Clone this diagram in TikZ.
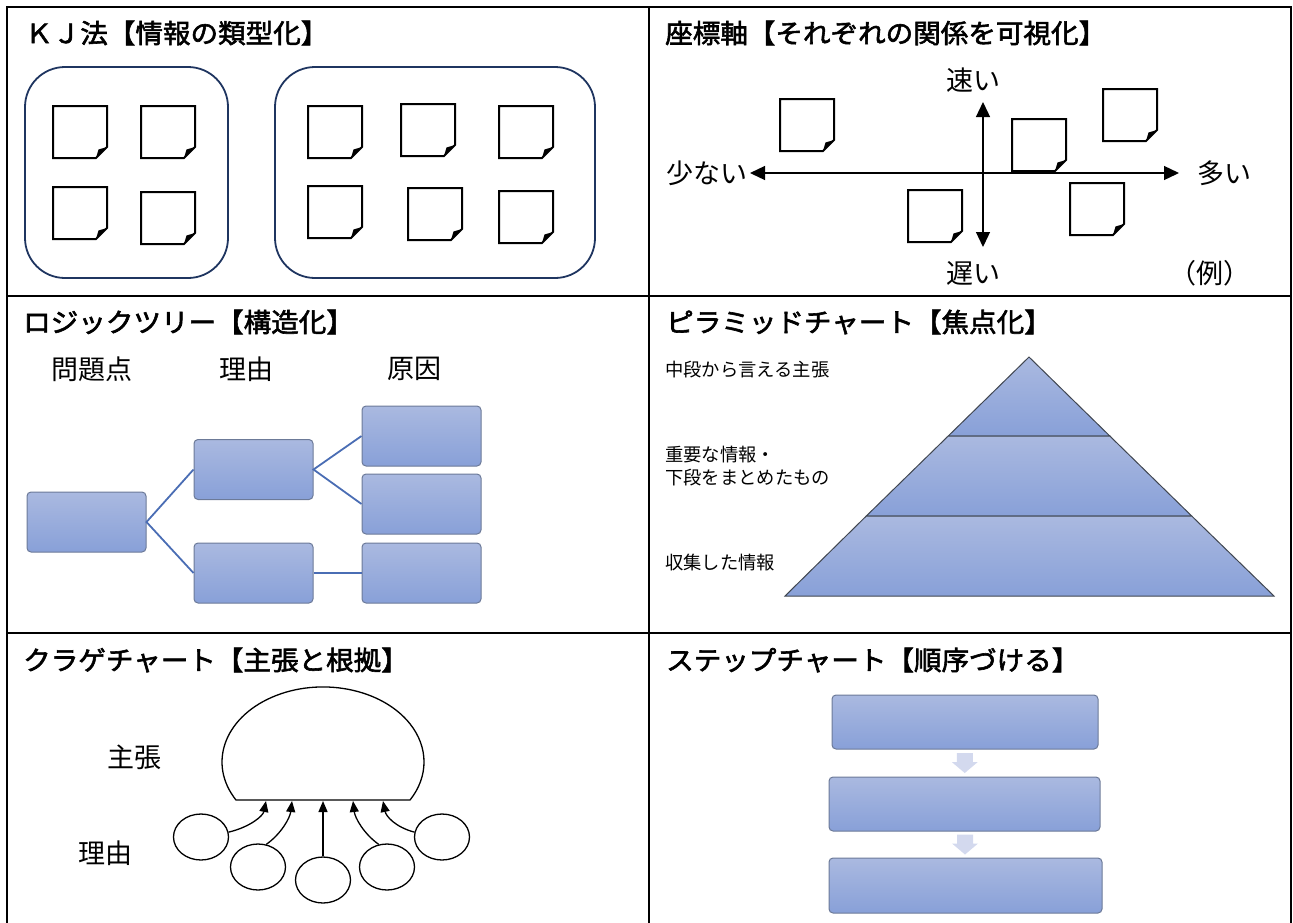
\documentclass[tikz,border=0pt]{standalone}
\usepackage{fontspec}
\newfontfamily\jp{Noto Sans CJK JP}
\newfontfamily\jpb{Noto Sans CJK JP}[FakeBold=2.2, FakeStretch=1.04]
\usetikzlibrary{arrows.meta,shapes.geometric,calc}
\definecolor{boxtop}{HTML}{AAB9E0}
\definecolor{boxbot}{HTML}{88A0D8}
\definecolor{boxline}{HTML}{6C7A98}
\definecolor{treeline}{HTML}{4A6DB4}
\definecolor{navy}{HTML}{1F3560}
\definecolor{steparrow}{HTML}{D3D9EE}
\definecolor{pyrline}{HTML}{404650}
\tikzset{
  cellline/.style={line width=2pt, black, line cap=rect},
  title/.style={anchor=west, inner sep=0pt, font=\jpb\fontsize{26.5}{26.5}\selectfont},
  lbl/.style={inner sep=0pt, font=\jp\fontsize{27}{27}\selectfont},
  small/.style={anchor=west, inner sep=0pt, align=left, font=\jp\fontsize{18.3}{23}\selectfont},
  gbox/.style={draw=boxline, line width=1pt, rounded corners=4pt, top color=boxtop, bottom color=boxbot, inner sep=0pt},
  treebox/.style={gbox, minimum width=119pt, minimum height=60pt},
  stepbox/.style={gbox, minimum height=54pt},
  group/.style={draw=navy, line width=1.8pt, rounded corners=40pt},
  treelink/.style={draw=treeline, line width=1.8pt},
  reason/.style={draw, ellipse, line width=1.3pt, minimum width=55pt, minimum height=46pt, inner sep=0pt},
  jarrow/.style={line width=1.3pt, -{Triangle[length=11pt,width=9pt]}},
  axis/.style={line width=1.3pt, {Triangle[length=15pt,width=14pt]}-{Triangle[length=15pt,width=14pt]}},
  sticky/.pic={
    \draw[line width=2pt, line join=miter] (0,0) -- (54,0) -- (54,41) -- (43,52) -- (0,52) -- cycle;
    \fill (54,41) -- (43,52) -- (45.5,43.5) -- cycle;
  },
  downarr/.pic={
    \fill[steparrow] (-8,-10) -- (8,-10) -- (8,-1) -- (13,-1) -- (0,10) -- (-13,-1) -- (-8,-1) -- cycle;
  }
}
\begin{document}
\begin{tikzpicture}[x=1pt,y=-1pt]
\useasboundingbox (0,0) rectangle (1293,922);
% table lines
\draw[cellline] (7,930) -- (7,7) -- (1291,7) -- (1291,930);
\draw[cellline] (649,7) -- (649,930);
\draw[cellline] (7,296) -- (1291,296);
\draw[cellline] (7,633) -- (1291,633);

% ---------- KJ ----------
\node[title] (t1) at (25,33) {ＫＪ法【情報の類型化】};
\draw[group] (25,67) rectangle (228,278);
\draw[group] (275,67) rectangle (595,278);
\foreach \p in {(53,106),(141,106),(53,187),(141,192),(308,106),(401,104),(499,106),(308,186),(408,188),(499,191)}
  \pic at \p {sticky};

% ---------- axes ----------
\node[title] (t2) at (665,33) {座標軸【それぞれの関係を可視化】};
\foreach \p in {(780,99),(1012,119),(1103,89),(908,190),(1070,183)}
  \pic at \p {sticky};
\node[lbl, anchor=east] (few) at (748,173) {少ない};
\node[lbl, anchor=west] (many) at (1197,173) {多い};
\node[lbl] (fast) at (973,80) {速い};
\node[lbl] (slow) at (973,273) {遅い};
\node[lbl] (ex) at (1210,273) {（例）};
\coordinate (xl) at (750,173);
\coordinate (xr) at (1179,173);
\coordinate (yt) at (983,102);
\coordinate (yb) at (983,247);
\draw[axis] (xl) -- (xr);
\draw[axis] (yt) -- (yb);

% ---------- logic tree ----------
\node[title] (t3) at (23,322) {ロジックツリー【構造化】};
\node[lbl] (h1) at (92,369) {問題点};
\node[lbl] (h2) at (246,369) {理由};
\node[lbl] (h3) at (414,369) {原因};
\node[treebox] (root) at (86.5,522) {};
\node[treebox] (m1) at (253.5,469.5) {};
\node[treebox] (m2) at (253.5,573) {};
\node[treebox] (r1) at (421.5,436) {};
\node[treebox] (r2) at (421.5,504) {};
\node[treebox] (r3) at (421.5,573) {};
\draw[treelink] (m1.west) -- (root.east) -- (m2.west);
\draw[treelink] (r1.west) -- (m1.east) -- (r2.west);
\draw[treelink] (m2.east) -- (r3.west);

% ---------- pyramid ----------
\node[title] (t4) at (666,322) {ピラミッドチャート【焦点化】};
\shade[top color=boxtop, bottom color=boxbot, draw=pyrline, line width=1pt]
  (1029,357) -- (1109.8,436) -- (948.2,436) -- cycle;
\shade[top color=boxtop, bottom color=boxbot, draw=pyrline, line width=1pt]
  (948.2,436) -- (1109.8,436) -- (1191.7,516) -- (866.3,516) -- cycle;
\shade[top color=boxtop, bottom color=boxbot, draw=pyrline, line width=1pt]
  (866.3,516) -- (1191.7,516) -- (1274,596) -- (785,596) -- cycle;
\node[small] (p1) at (665,370) {中段から言える主張};
\node[small] (p2) at (665,466) {重要な情報・\\下段をまとめたもの};
\node[small] (p3) at (665,563) {収集した情報};

% ---------- jellyfish ----------
\node[title] (t5) at (23,660) {クラゲチャート【主張と根拠】};
\node[lbl] (claim) at (134.5,757) {主張};
\node[lbl] (why) at (105.5,853) {理由};
\draw[line width=1.3pt] (236,800) arc[start angle=149.5, end angle=390.5, x radius=101, y radius=75] -- cycle;
\coordinate (g1) at (266,801);
\coordinate (g2) at (292,801);
\coordinate (g3) at (323,801);
\coordinate (g4) at (353,801);
\coordinate (g5) at (383,801);
\node[reason] (c1) at (201,837) {};
\node[reason] (c2) at (258,867) {};
\node[reason] (c3) at (323,880) {};
\node[reason] (c4) at (387,867) {};
\node[reason] (c5) at (442,837) {};
\draw[jarrow] (c1.10) .. controls (250,827) and (263,816) .. (g1);
\draw[jarrow] (c2.70) .. controls (281,834) and (290,818) .. (g2);
\draw[jarrow] (c3.north) -- (g3);
\draw[jarrow] (c4.110) .. controls (364,834) and (355,818) .. (g4);
\draw[jarrow] (c5.170) .. controls (395,827) and (386,816) .. (g5);

% ---------- step chart ----------
\node[title] (t6) at (666,660) {ステップチャート【順序づける】};
\node[stepbox, minimum width=266pt] (s1) at (965,722) {};
\node[stepbox, minimum width=271pt] (s2) at (964.5,804) {};
\node[stepbox, minimum width=273pt, minimum height=55pt] (s3) at (965.5,885.5) {};
\pic at ($(s1.south)!0.5!(s2.north)$) {downarr};
\pic at ($(s2.south)!0.5!(s3.north)$) {downarr};
\end{tikzpicture}
\end{document}
